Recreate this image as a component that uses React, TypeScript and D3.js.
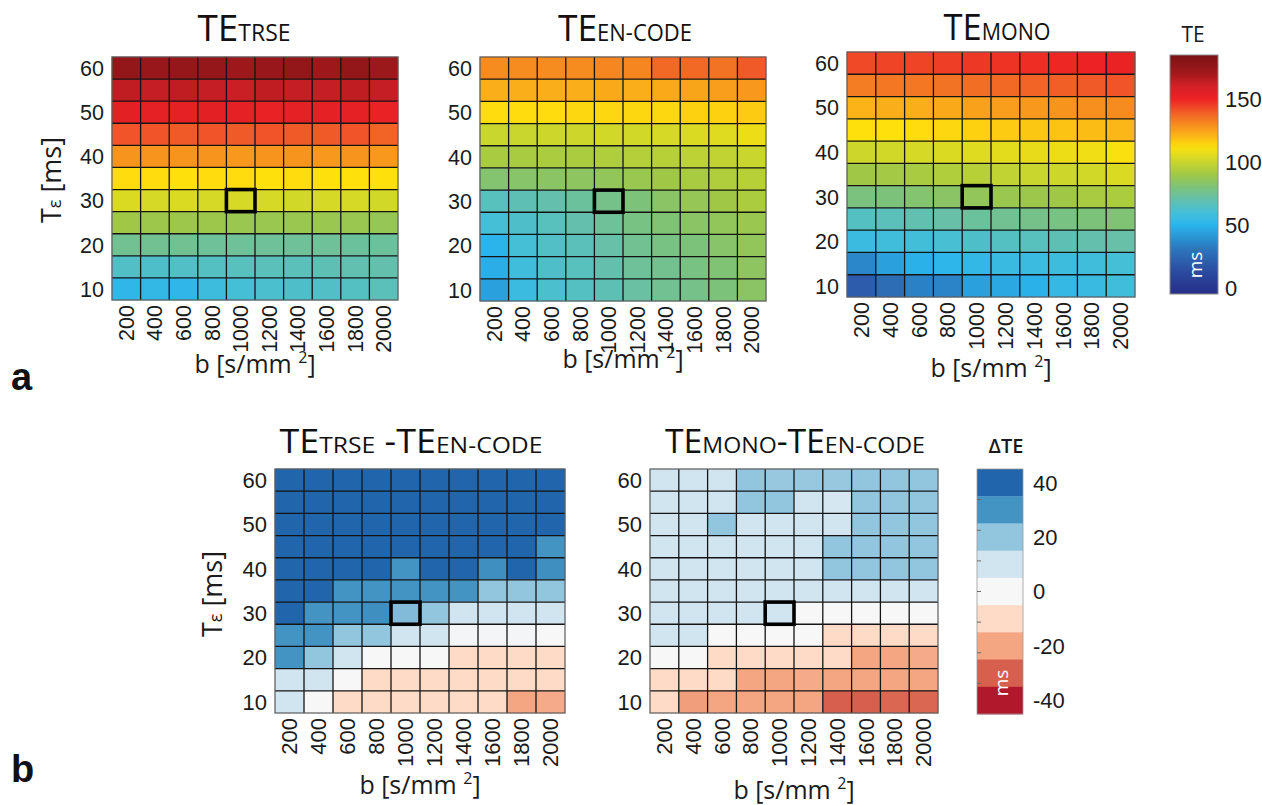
import React from 'react';
import * as d3 from 'd3';

// b-values (columns) and echo spacing T (rows, top = 60 ms)
const bValues = [200, 400, 600, 800, 1000, 1200, 1400, 1600, 1800, 2000];
const tValues = [60, 55, 50, 45, 40, 35, 30, 25, 20, 15, 10];
const tTickLabels = [60, 50, 40, 30, 20, 10];
const teTickLabels = [0, 50, 100, 150];
const dTeTickLabels = [40, 20, 0, -20, -40];
const dTeBins = [40, 30, 20, 10, 0, -10, -20, -30, -40];
const dTeMinorTicks = [33.75, 22.5, 11.25, 0, -11.25, -22.5, -33.75];

// TE values [ms], one row per T (60 -> 10)
const teTrse = [
  [176, 174, 175, 175, 172, 174, 176, 172, 176, 173],
  [164, 163, 164, 163, 162, 164, 163, 163, 164, 163],
  [154, 153, 153, 154, 153, 152, 153, 153, 153, 152],
  [141, 141, 140, 141, 140, 141, 140, 140, 141, 138],
  [128, 128, 128, 128, 127, 128, 128, 127, 128, 127],
  [113, 113, 112, 113, 113, 112, 113, 112, 112, 112],
  [104, 103, 104, 103, 103, 103, 102, 103, 103, 102],
  [90, 89, 89, 89, 88, 88, 88, 88, 88, 87],
  [75, 75, 75, 74, 74, 74, 74, 74, 73, 73],
  [64, 63, 64, 65, 66, 67, 67, 68, 69, 70],
  [52, 53, 52, 57, 60, 62, 63, 64, 65, 67],
];

const teEncode = [
  [130, 130, 130, 130, 131, 131, 137, 137, 135, 140],
  [122, 122, 122, 122, 123, 122, 123, 124, 126, 127],
  [113, 113, 113, 114, 114, 114, 114, 115, 115, 116],
  [100, 100, 101, 101, 102, 102, 103, 104, 105, 108],
  [92, 92, 93, 93, 94, 95, 96, 97, 98, 100],
  [82, 83, 84, 85, 86, 88, 90, 92, 94, 96],
  [66, 68, 70, 73, 77, 80, 84, 87, 90, 93],
  [60, 63, 66, 70, 74, 78, 81, 84, 86, 88],
  [50, 60, 64, 67, 71, 75, 78, 80, 83, 86],
  [48, 58, 63, 66, 70, 74, 76, 78, 81, 85],
  [44, 56, 62, 65, 68, 72, 75, 77, 80, 84],
];

const teMono = [
  [143, 144, 144, 145, 146, 147, 148, 149, 150, 151],
  [133, 134, 134, 135, 136, 137, 138, 139, 140, 141],
  [121, 122, 122, 123, 125, 126, 127, 128, 129, 130],
  [112, 112, 113, 114, 115, 116, 117, 118, 119, 120],
  [101, 102, 103, 104, 105, 106, 107, 108, 109, 111],
  [90, 91, 92, 94, 96, 98, 100, 101, 102, 104],
  [79, 80, 82, 84, 86, 88, 89, 90, 92, 93],
  [65, 67, 69, 71, 73, 75, 77, 78, 80, 81],
  [56, 58, 59, 61, 63, 65, 66, 68, 70, 71],
  [36, 44, 49, 51, 53, 55, 56, 57, 58, 60],
  [20, 27, 34, 35, 44, 46, 49, 54, 55, 58],
];

// differences [ms]
const dTrseEncode = [
  [40, 40, 40, 40, 40, 40, 40, 40, 40, 40],
  [40, 40, 40, 40, 40, 40, 40, 40, 40, 40],
  [40, 40, 40, 40, 40, 40, 40, 40, 40, 40],
  [40, 40, 40, 40, 40, 40, 40, 40, 40, 30],
  [40, 40, 40, 40, 30, 40, 40, 31, 40, 31],
  [40, 40, 30, 30, 30, 30, 30, 20, 20, 20],
  [40, 30, 30, 31, 22, 20, 10, 10, 10, 10],
  [30, 30, 20, 20, 10, 10, 1, 1, 1, 0],
  [30, 20, 10, 0, 0, 0, -10, -10, -10, -10],
  [10, 10, 0, -10, -10, -10, -10, -10, -10, -10],
  [10, 0, -10, -10, -10, -10, -10, -10, -20, -19],
];

const dMonoEncode = [
  [10, 10, 10, 20, 19, 19, 19, 20, 20, 20],
  [10, 10, 10, 20, 20, 10, 9, 20, 20, 20],
  [10, 10, 20, 10, 10, 10, 10, 20, 20, 20],
  [10, 10, 10, 10, 10, 10, 20, 20, 20, 20],
  [10, 10, 10, 10, 10, 10, 20, 20, 20, 20],
  [10, 10, 10, 10, 10, 10, 10, 10, 10, 10],
  [10, 10, 10, 10, 10, 0, 0, 0, 0, 0],
  [10, 10, 0, 0, 0, 0, -10, -10, -10, -10],
  [0, 0, -10, -10, -10, -10, -10, -20, -20, -19],
  [-10, -10, -10, -20, -20, -19, -20, -20, -20, -20],
  [-10, -21, -20, -20, -20, -20, -30, -30, -29, -29],
];

const highlightB = 1000;
const highlightT = 30;

// colour maps
const jetStops = [-5, 0, 15, 30, 40, 50, 60, 70, 80, 90, 100, 112, 120, 130, 140, 150, 160, 170, 185];
const jetColors = ['#25308a', '#27358e', '#2c50a3', '#2c74bb', '#2a94d3', '#2bb4ec', '#45bfd6', '#64c0ac', '#7dc27a',
  '#a0c846', '#c8d62e', '#fee10c', '#fbb717', '#f68b1f', '#f05a28', '#ed2224', '#d42027', '#a3191c', '#7a1315'];
const teColor = d3.scaleLinear<string>().domain(jetStops).range(jetColors).clamp(true);

const divStops = [-40, -30, -20, -10, 0, 10, 20, 30, 40];
const divColors = ['#b2182b', '#d6604d', '#f4a582', '#fddbc7', '#f7f7f7', '#d1e5f0', '#92c5de', '#4393c3', '#2166ac'];
const dColor = d3.scaleLinear<string>().domain(divStops).range(divColors).clamp(true);

const TICK_FONT = '"Liberation Sans", Arial, Helvetica, sans-serif';
const LABEL_FONT = '"Open Sans", "Noto Sans", sans-serif';

type Panel = {
  data: number[][];
  color: (v: number) => string;
  x: number; y: number; w: number; h: number;
  title: [string, boolean][];
  titleX: number; titleY: number; titleW: number; bigSize: number; smallSize: number;
  xLabelY: number;
  yLabel?: [number, number];
  tickSize: number;
};

const panels: Panel[] = [
  { data: teTrse, color: teColor, x: 112, y: 57, w: 286, h: 243, title: [['TE', true], ['TRSE', false]],
    titleX: 244, titleY: 41, titleW: 93, bigSize: 37, smallSize: 23, xLabelY: 373, yLabel: [61, 180], tickSize: 21.5 },
  { data: teEncode, color: teColor, x: 480, y: 57, w: 286, h: 244, title: [['TE', true], ['EN-CODE', false]],
    titleX: 625, titleY: 41, titleW: 134, bigSize: 37, smallSize: 23, xLabelY: 368, tickSize: 21.5 },
  { data: teMono, color: teColor, x: 847, y: 52, w: 288, h: 245, title: [['TE', true], ['MONO', false]],
    titleX: 997, titleY: 40, titleW: 107, bigSize: 37, smallSize: 23, xLabelY: 377, tickSize: 21.5 },
  { data: dTrseEncode, color: dColor, x: 275, y: 469, w: 290, h: 244,
    title: [['TE', true], ['TRSE', false], [' -TE', true], ['EN-CODE', false]],
    titleX: 411, titleY: 453, titleW: 263, bigSize: 32, smallSize: 22, xLabelY: 794, yLabel: [222, 594], tickSize: 22 },
  { data: dMonoEncode, color: dColor, x: 650, y: 469, w: 288, h: 244,
    title: [['TE', true], ['MONO', false], ['-TE', true], ['EN-CODE', false]],
    titleX: 795, titleY: 453, titleW: 260, bigSize: 32, smallSize: 22, xLabelY: 799, tickSize: 22 },
];

function Heatmap({ p }: { p: Panel }) {
  const xs = d3.scaleBand<number>().domain(bValues).range([p.x, p.x + p.w]);
  const ys = d3.scaleBand<number>().domain(tValues).range([p.y, p.y + p.h]);
  const bw = xs.bandwidth();
  const bh = ys.bandwidth();
  const bottom = p.y + p.h;
  return (
    <g>
      {tValues.map((t, r) =>
        bValues.map((b, c) => (
          <rect key={`${r}-${c}`} x={xs(b)! - 0.3} y={ys(t)! - 0.3} width={bw + 0.6} height={bh + 0.6}
            fill={p.color(p.data[r][c])} />
        ))
      )}
      {bValues.slice(1).map(b => (
        <line key={`v${b}`} x1={xs(b)} x2={xs(b)} y1={p.y} y2={bottom} stroke="#141414" strokeWidth={1.3} />
      ))}
      {tValues.slice(1).map(t => (
        <line key={`h${t}`} x1={p.x} x2={p.x + p.w} y1={ys(t)} y2={ys(t)} stroke="#141414" strokeWidth={1.3} />
      ))}
      <rect x={p.x} y={p.y} width={p.w} height={p.h} fill="none" stroke="#5c5c5c" strokeWidth={1.2} />
      <rect x={xs(highlightB)} y={ys(highlightT)} width={bw} height={bh} fill="none" stroke="#000" strokeWidth={3.6} />

      {/* y ticks */}
      {tTickLabels.map(t => (
        <text key={`yt${t}`} x={p.x - 8} y={ys(t)! + bh / 2} dy="0.36em" textAnchor="end"
          fontFamily={TICK_FONT} fontSize={p.tickSize} fill="#1a1a1a">{t}</text>
      ))}
      {/* x ticks */}
      {bValues.map(b => (
        <text key={`xt${b}`} transform={`translate(${xs(b)! + bw / 2 + 7.5},${bottom + 5}) rotate(-90)`}
          textAnchor="end" fontFamily={TICK_FONT} fontSize={p.tickSize} fill="#1a1a1a">{b}</text>
      ))}

      {/* title */}
      <text x={p.titleX} y={p.titleY} textAnchor="middle" textLength={p.titleW} lengthAdjust="spacingAndGlyphs"
        fontFamily={LABEL_FONT} fill="#111" style={{ whiteSpace: 'pre' }}>
        {p.title.map(([s, big], i) => (
          <tspan key={i} fontSize={big ? p.bigSize : p.smallSize}>{s}</tspan>
        ))}
      </text>

      {/* axis labels */}
      <text x={p.x + p.w / 2} y={p.xLabelY} textAnchor="middle" fontFamily={LABEL_FONT} fontSize={25} fill="#1a1a1a"
        style={{ whiteSpace: 'pre' }}>
        {'b [s/mm '}
        <tspan fontSize={16} dy={-10}>2</tspan>
        <tspan dy={10}>]</tspan>
      </text>
      {p.yLabel && (
        <text transform={`translate(${p.yLabel[0]},${p.yLabel[1]}) rotate(-90)`} textAnchor="middle"
          fontFamily={LABEL_FONT} fontSize={27} fill="#1a1a1a" style={{ whiteSpace: 'pre' }}>
          T<tspan fontSize={18}>ε</tspan>{' [ms]'}
        </text>
      )}
    </g>
  );
}

function TeColorbar() {
  const x = 1170, w = 48;
  const y = d3.scaleLinear().domain([-5, 185]).range([294, 55]);
  const stops = d3.range(-5, 186, 5);
  return (
    <g>
      <defs>
        <linearGradient id="teGrad" x1="0" y1="1" x2="0" y2="0">
          {stops.map(v => (
            <stop key={v} offset={(v + 5) / 190} stopColor={teColor(v)} />
          ))}
        </linearGradient>
      </defs>
      <rect x={x} y={y(185)} width={w} height={y(-5) - y(185)} fill="url(#teGrad)" stroke="#8a8a8a" strokeWidth={1} />
      {teTickLabels.map(v => (
        <text key={v} x={1225} y={y(v)} dy="0.36em" fontFamily={TICK_FONT} fontSize={22} fill="#1a1a1a">{v}</text>
      ))}
      <text x={x + w / 2 - 1} y={42} textAnchor="middle" fontFamily={LABEL_FONT} fontSize={21} fill="#1a1a1a">TE</text>
      <text transform={`translate(${x + w / 2 + 8},265) rotate(-90)`} textAnchor="middle" fontFamily={LABEL_FONT}
        fontSize={19} fill="#fff">ms</text>
    </g>
  );
}

function DeltaColorbar() {
  const x = 977, w = 46;
  const y = d3.scaleLinear().domain([-45, 45]).range([714, 469]);
  return (
    <g>
      {dTeBins.map(c => (
        <rect key={c} x={x} y={y(c + 5)} width={w} height={y(c - 5) - y(c + 5) + 0.4} fill={dColor(c)} />
      ))}
      <rect x={x} y={y(45)} width={w} height={y(-45) - y(45)} fill="none" stroke="#9a9a9a" strokeWidth={0.8} />
      {dTeMinorTicks.map(v => (
        <line key={v} x1={x} x2={x + 4} y1={y(v)} y2={y(v)} stroke="#6a6a6a" strokeWidth={1} />
      ))}
      {dTeTickLabels.map(v => (
        <text key={v} x={1033} y={y(v)} dy="0.36em" fontFamily={TICK_FONT} fontSize={22} fill="#1a1a1a">{v}</text>
      ))}
      <text x={1006} y={453} textAnchor="middle" fontFamily={LABEL_FONT} fontSize={20} fontWeight={600} fill="#1a1a1a">ΔTE</text>
      <text transform={`translate(${x + w / 2 + 8},683) rotate(-90)`} textAnchor="middle" fontFamily={LABEL_FONT}
        fontSize={19} fill="#fff">ms</text>
    </g>
  );
}

export default function App() {
  return (
    <svg width={1262} height={805} style={{ position: 'absolute', left: 0, top: 0, background: '#fff' }}>
      <rect width={1262} height={805} fill="#fff" />
      {panels.map((p, i) => <Heatmap key={i} p={p} />)}
      <TeColorbar />
      <DeltaColorbar />
      <text x={11} y={390} fontFamily={TICK_FONT} fontWeight={700} fontSize={38} fill="#111">a</text>
      <text x={11} y={782} fontFamily={TICK_FONT} fontWeight={700} fontSize={38} fill="#111">b</text>
    </svg>
  );
}
